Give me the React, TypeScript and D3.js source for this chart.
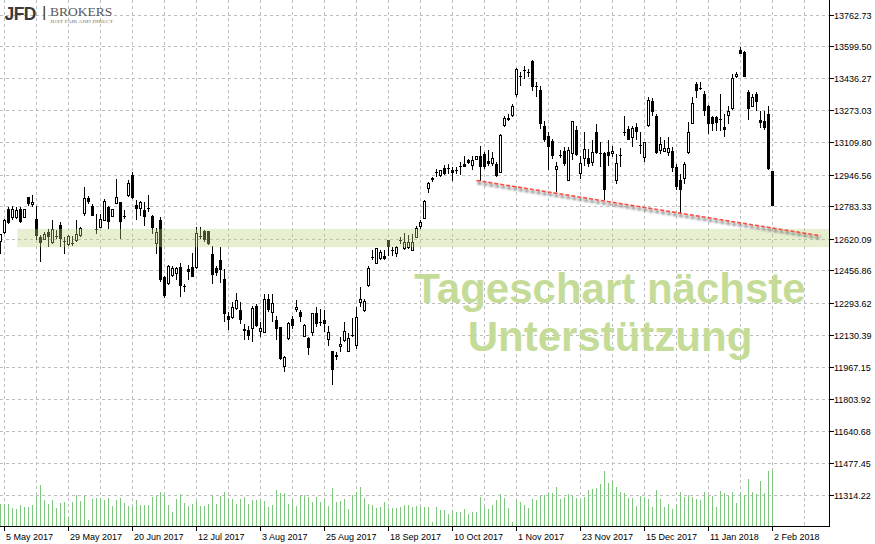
import React from 'react';
import * as d3 from 'd3';

const W = 875;
const H = 544;

// [open, high, low, close] per daily bar, first bar = 4 May 2017
const ohlc: [number, number, number, number][] = [
  [12605,12644,12542,12639],[12652,12721,12644,12712],[12772,12780,12695,12698],[12729,12785,12712,12768],[12729,12783,12721,12763],
  [12772,12780,12700,12703],[12729,12772,12726,12768],[12831,12834,12788,12797],[12794,12844,12783,12805],[12721,12788,12610,12635],
  [12630,12639,12499,12596],[12613,12652,12610,12639],[12652,12669,12576,12627],[12601,12712,12593,12664],[12635,12661,12618,12635],
  [12690,12703,12576,12618],[12606,12627,12542,12606],[12588,12640,12584,12632],[12596,12635,12584,12596],[12610,12712,12601,12639],
  [12635,12681,12627,12669],[12746,12882,12737,12823],[12828,12839,12797,12805],[12788,12797,12735,12737],[12669,12746,12644,12669],
  [12678,12746,12675,12715],[12712,12823,12708,12809],[12780,12788,12669,12703],[12732,12772,12729,12766],[12797,12925,12794,12828],
  [12805,12808,12618,12703],[12737,12763,12721,12737],[12839,12916,12834,12902],[12945,12958,12823,12828],[12792,12814,12715,12772],
  [12772,12809,12737,12805],[12763,12805,12686,12732],[12775,12844,12754,12775],[12737,12740,12644,12675],[12593,12675,12542,12652],
  [12712,12729,12396,12406],[12423,12431,12319,12329],[12389,12487,12385,12477],[12431,12482,12423,12466],[12440,12477,12406,12466],
  [12477,12494,12324,12380],[12380,12389,12346,12380],[12466,12487,12409,12448],[12474,12544,12423,12426],[12474,12678,12466,12646],
  [12632,12681,12618,12632],[12657,12661,12601,12610],[12657,12660,12589,12593],[12539,12584,12389,12436],[12471,12482,12431,12443],
  [12508,12579,12392,12457],[12415,12467,12193,12236],[12227,12244,12151,12202],[12216,12295,12210,12270],[12264,12343,12256,12304],
  [12256,12295,12185,12202],[12159,12185,12100,12147],[12151,12176,12100,12125],[12159,12278,12091,12261],[12278,12287,12168,12176],
  [12147,12193,12117,12159],[12142,12338,12137,12307],[12312,12338,12244,12253],[12244,12338,12193,12290],[12202,12227,12100,12159],
  [12168,12170,11998,12006],[11967,12023,11938,12015],[12108,12193,12103,12188],[12210,12227,12159,12176],[12256,12304,12244,12267],
  [12244,12253,12193,12219],[12120,12185,12117,12176],[12114,12117,12028,12063],[12142,12239,12125,12236],[12239,12270,12168,12185],
  [12193,12261,12176,12193],[12202,12253,12142,12185],[12103,12176,12074,12142],[12045,12048,11875,11947],[12028,12040,11998,12015],
  [12069,12117,12040,12079],[12100,12193,12091,12146],[12045,12137,12040,12108],[12130,12216,12117,12130],[12074,12270,12057,12219],
  [12295,12372,12270,12307],[12253,12312,12244,12299],[12380,12482,12375,12466],[12525,12559,12511,12525],[12494,12573,12491,12568],
  [12517,12559,12508,12547],[12533,12559,12508,12513],[12610,12613,12533,12576],[12559,12576,12533,12559],[12542,12584,12525,12576],
  [12613,12627,12593,12605],[12568,12647,12562,12601],[12573,12640,12568,12601],[12559,12644,12555,12598],[12627,12686,12624,12669],
  [12681,12715,12669,12703],[12724,12817,12721,12810],[12874,12907,12851,12899],[12930,12936,12907,12921],[12958,12976,12933,12958],
  [12941,12970,12936,12967],[12981,12996,12945,12950],[12979,12998,12950,12979],[12970,12984,12912,12955],[12970,12987,12950,12970],
  [12991,13009,12946,12991],[12998,13043,12984,12987],[13018,13027,12998,13004],[12992,13043,12970,13018],[13021,13043,13018,13038],
  [13043,13094,12912,12984],[13052,13060,12976,12984],[13014,13069,12992,12998],[13001,13060,12992,13027],[13001,13009,12933,12941],
  [12958,13151,12952,13145],[13196,13247,13188,13231],[13236,13256,13218,13225],[13247,13304,13242,13293],[13353,13489,13344,13481],
  [13451,13468,13400,13443],[13481,13502,13435,13481],[13468,13486,13443,13468],[13528,13530,13371,13392],[13400,13417,13344,13400],
  [13379,13400,13180,13205],[13196,13222,13111,13120],[13145,13162,12967,13089],[13115,13129,13027,13043],[12970,13009,12856,12987],
  [13047,13069,13032,13047],[13064,13089,12992,12998],[12916,13089,12912,13069],[13052,13222,13018,13217],[13174,13196,13043,13047],
  [12950,13043,12925,13001],[13027,13162,12992,13072],[13032,13078,12987,12998],[13009,13120,12992,13060],[13162,13205,13052,13055],
  [13055,13111,12987,13055],[13055,13060,12814,12868],[13060,13120,12992,13043],[13052,13094,13035,13065],[12916,13052,12899,13004],
  [13047,13083,12987,13047],[13162,13247,13145,13162],[13180,13196,13120,13123],[13137,13196,13086,13180],[13191,13208,13120,13162],
  [13098,13162,13052,13098],[13035,13111,13009,13108],[13196,13341,13191,13324],[13324,13338,13247,13264],[13247,13253,13052,13055],
  [13069,13137,13052,13100],[13064,13120,13060,13081],[13060,13137,13043,13081],[13064,13086,12958,12979],[12984,13001,12865,12882],
  [12921,12950,12746,12865],[12925,13009,12899,12996],[13060,13213,13052,13162],[13205,13341,13202,13307],[13406,13417,13338,13375],
  [13387,13417,13379,13387],[13358,13375,13247,13273],[13298,13300,13151,13205],[13242,13247,13171,13205],[13242,13247,13167,13208],
  [13231,13358,13171,13231],[13191,13253,13137,13174],[13247,13298,13205,13268],[13282,13460,13277,13435],[13446,13468,13440,13457],
  [13583,13599,13559,13562],[13570,13575,13443,13446],[13366,13379,13225,13282],[13293,13358,13290,13338],[13358,13366,13273,13315],
  [13225,13273,13185,13208],[13222,13273,13174,13185],[13253,13298,12970,12976],[12962,12965,12787,12788],
];

const volumes: number[] = [
  2200,2200,2200,1770,1700,2070,1870,1930,2070,3030,
  4100,2600,2200,2600,1770,2270,2370,930,2430,3100,
  2500,3100,600,2700,2830,2770,2600,2830,2000,2600,
  2830,2330,2000,1930,2600,2070,2070,2070,2930,3030,
  3400,3100,2100,1430,2670,3170,2270,2000,2170,2500,
  2000,2000,2200,3100,2200,3000,3370,2670,2670,2200,
  2670,2870,2200,2600,2600,2600,2500,1870,2100,3600,
  3270,3270,2200,2600,2000,3100,3100,2870,2400,2930,
  2400,2670,2000,3800,2430,2530,2670,1700,3070,3430,
  3870,2830,2170,2100,1830,1870,2370,1770,1770,1770,
  1930,2070,2070,1930,2000,1870,1870,1870,430,
  1870,1600,1600,1200,1600,1430,1430,1700,1200,1370,
  1430,2870,1870,1700,2070,2600,3170,2830,1770,400,
  2600,2430,2070,1770,2670,2600,3030,3100,3270,3270,
  3870,2670,2870,3170,3000,2830,2600,2930,3600,3670,
  3830,4200,5500,4330,4500,3870,3430,3270,2770,2770,
  2000,3000,2930,2700,1930,3600,2700,1870,2200,1670,
  2100,3400,2930,3100,2930,2700,2600,3400,3030,3030,
  1870,3530,3270,3030,3370,2330,3270,3100,4700,3370,
  3170,4500,3270,5500,5530,
];

const priceTicks: number[] = [
  13762.73, 13599.5, 13436.27, 13273.03, 13109.8, 12946.56, 12783.33, 12620.09,
  12456.86, 12293.62, 12130.39, 11967.15, 11803.92, 11640.68, 11477.45, 11314.22,
];

const dateLabels: [number, string][] = [
  [1, '5 May 2017'], [17, '29 May 2017'], [33, '20 Jun 2017'], [49, '12 Jul 2017'],
  [65, '3 Aug 2017'], [81, '25 Aug 2017'], [97, '18 Sep 2017'], [113, '10 Oct 2017'],
  [129, '1 Nov 2017'], [145, '23 Nov 2017'], [161, '15 Dec 2017'], [177, '11 Jan 2018'],
  [193, '2 Feb 2018'],
];

const supportZone = { fromBar: 4.2, upper: 12669, lower: 12576 };
const trendLine: [number, number][] = [[119, 12916], [205, 12634]];
const annotation: string[] = ['Tageschart nächste', 'Unterstützung'];

const AXIS_FONT = "'Liberation Sans', Arial, sans-serif";

export default function App() {
  const plotRight = 829.5;
  const plotBottom = 526.5;
  const x = d3.scaleLinear().domain([0, 207]).range([0.5, 828.5]);
  const y = d3.scaleLinear().domain([11314.22, 13762.73]).range([494.5, 14.5]);
  const volH = d3.scaleLinear().domain([0, 6000]).range([0, 60]);

  const gridBars: number[] = d3.range(1, 208, 8).filter((b) => x(b) < plotRight - 1);
  const fmt = d3.format('.2f');

  const trendPath = d3.line<[number, number]>()
    .x((d) => x(d[0]))
    .y((d) => y(d[1]))(trendLine) as string;

  return (
    <svg width={W} height={H} style={{ position: 'absolute', left: 0, top: 0, background: '#fff' }}>
      <defs>
        <clipPath id="plot">
          <rect x={0} y={0} width={plotRight} height={plotBottom} />
        </clipPath>
        <filter id="blur" x="-5%" y="-50%" width="110%" height="200%">
          <feGaussianBlur stdDeviation="0.9" />
        </filter>
      </defs>
      <rect x={0} y={0} width={W} height={H} fill="#fff" />

      {/* grid */}
      <g stroke="#bdbdbd" strokeWidth={1} strokeDasharray="3,3" shapeRendering="crispEdges">
        {priceTicks.map((t) => (
          <line key={'h' + t} x1={0} x2={plotRight} y1={Math.round(y(t)) + 0.5} y2={Math.round(y(t)) + 0.5} />
        ))}
        {gridBars.map((b) => (
          <line key={'v' + b} x1={x(b)} x2={x(b)} y1={0} y2={plotBottom} />
        ))}
      </g>

      {/* annotation text */}
      <g fontFamily={AXIS_FONT} fontWeight="bold" fontSize={42} fill="#c5dc98" textAnchor="middle">
        <text x={610} y={303}>{annotation[0]}</text>
        <text x={610} y={351}>{annotation[1]}</text>
      </g>

      <g clipPath="url(#plot)">
        {/* volumes */}
        <g stroke="#7fc67f" strokeWidth={1} shapeRendering="crispEdges">
          {volumes.map((v, i) => (
            <line key={'vol' + i} x1={x(i)} x2={x(i)} y1={plotBottom - 0.5} y2={plotBottom - 0.5 - volH(v)} />
          ))}
        </g>

        {/* candles */}
        <g shapeRendering="crispEdges">
          {ohlc.map(([o, h, l, c], i) => {
            const cx = x(i);
            const yo = y(o), yc = y(c);
            const top = Math.min(yo, yc), bot = Math.max(yo, yc);
            let body;
            if (Math.abs(bot - top) < 1.2) {
              body = <rect x={cx - 1.5} y={Math.round(top)} width={3} height={1} fill="#000" />;
            } else if (c < o) {
              body = <rect x={cx - 1.5} y={top} width={3} height={bot - top} fill="#000" />;
            } else {
              body = <rect x={cx - 1} y={top} width={2} height={bot - top} fill="#fff" stroke="#000" strokeWidth={1} />;
            }
            return (
              <g key={'c' + i}>
                <line x1={cx} x2={cx} y1={y(h)} y2={y(l)} stroke="#000" strokeWidth={1} />
                {body}
              </g>
            );
          })}
        </g>

        {/* support zone */}
        <rect
          x={x(supportZone.fromBar)}
          y={y(supportZone.upper)}
          width={plotRight - x(supportZone.fromBar)}
          height={y(supportZone.lower) - y(supportZone.upper)}
          fill="#b9d67e"
          fillOpacity={0.36}
        />

        {/* trend line */}
        <path d={trendPath} transform="translate(1,2.5)" stroke="#7a7a7a" strokeWidth={2.6} strokeDasharray="4,2"
          fill="none" filter="url(#blur)" opacity={0.9} />
        <path d={trendPath} stroke="#ff4b3e" strokeWidth={1.6} strokeDasharray="4,2" fill="none" />
      </g>

      {/* axes */}
      <g stroke="#000" strokeWidth={1} shapeRendering="crispEdges">
        <line x1={plotRight} x2={plotRight} y1={0} y2={plotBottom} />
        <line x1={0} x2={plotRight} y1={plotBottom} y2={plotBottom} />
        {priceTicks.map((t) => (
          <line key={'yt' + t} x1={plotRight} x2={plotRight + 4} y1={Math.round(y(t)) + 0.5} y2={Math.round(y(t)) + 0.5} />
        ))}
        {dateLabels.map(([b]) => (
          <line key={'xt' + b} x1={x(b)} x2={x(b)} y1={plotBottom} y2={plotBottom + 4} />
        ))}
      </g>
      <g fontFamily={AXIS_FONT} fontSize={9} fill="#000">
        {priceTicks.map((t) => (
          <text key={'yl' + t} x={834} y={Math.round(y(t)) + 4}>{fmt(t)}</text>
        ))}
        {dateLabels.map(([b, s]) => (
          <text key={'xl' + b} x={x(b) + 1.5} y={540}>{s}</text>
        ))}
      </g>

      {/* logo */}
      <g>
        <text x={4.5} y={20} fontFamily={AXIS_FONT} fontWeight="bold" fontSize={17.5} fill="#3a3a3a" letterSpacing={-0.6}>JFD</text>
        <rect x={43.5} y={6} width={1.6} height={14} fill="#555" />
        <text x={50} y={16} fontFamily="'Liberation Serif', 'Times New Roman', serif" fontSize={13.5} fill="#5a5a5a">BROKERS</text>
        <text x={50} y={23} fontFamily="'Liberation Serif', serif" fontSize={4} fill="#777" textLength={63} lengthAdjust="spacingAndGlyphs">JUST FAIR AND DIRECT</text>
      </g>
    </svg>
  );
}
